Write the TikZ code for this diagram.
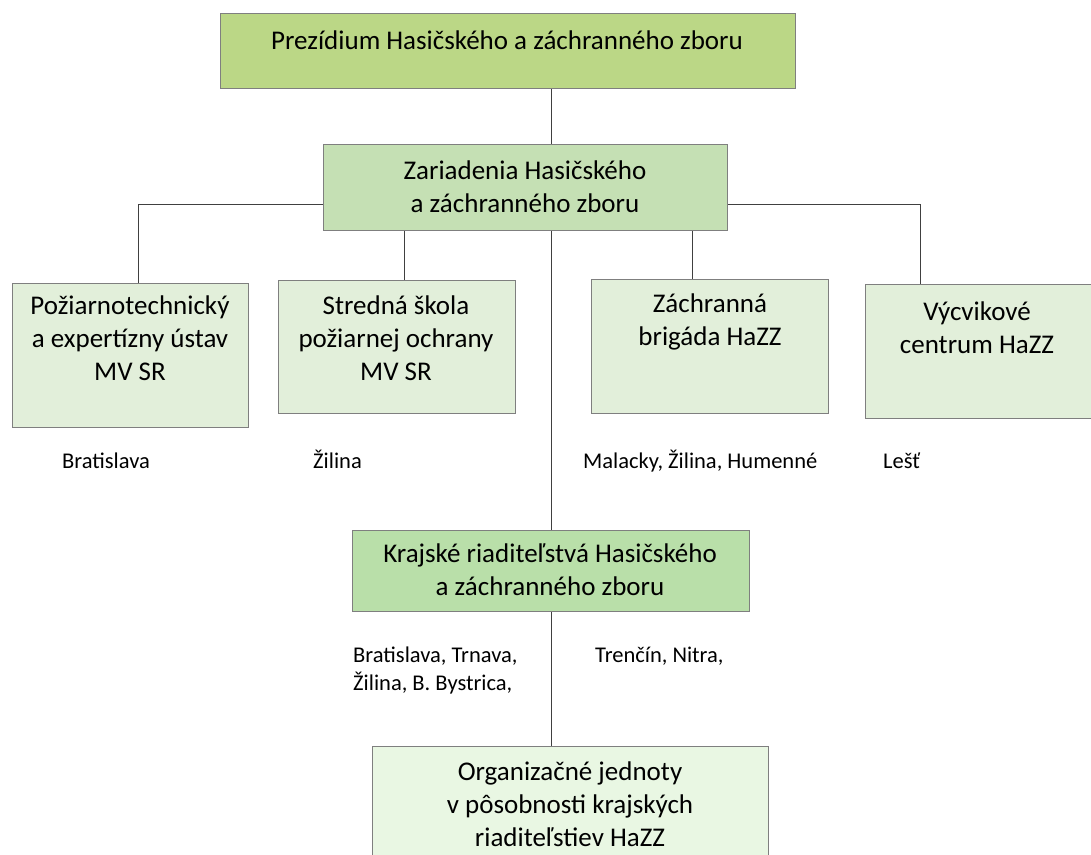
\documentclass[tikz,border=0pt]{standalone}
\usepackage{fontspec}
\setmainfont{Carlito}
\definecolor{cTop}{HTML}{BBD786}
\definecolor{cMid}{HTML}{C5E0B4}
\definecolor{cSmall}{HTML}{E2EFDA}
\definecolor{cKraj}{HTML}{B9DFA9}
\definecolor{cOrg}{HTML}{E9F7E3}
\definecolor{cBorder}{HTML}{7F7F7F}
\definecolor{cLine}{HTML}{404040}
\begin{document}
\begin{tikzpicture}[x=1pt,y=-1pt,
  box/.style={draw=cBorder,line width=1pt,inner sep=0pt,anchor=north west},
  boxtext/.style={align=center,font=\fontsize{27}{33}\selectfont,inner sep=0pt,anchor=base},
  place/.style={anchor=base west,align=left,font=\fontsize{22.5}{28}\selectfont,inner sep=0pt},
  conn/.style={draw=cLine,line width=0.9pt}]
\useasboundingbox (0,0) rectangle (1091,854);
% boxes
\node[box,fill=cTop,minimum width=575pt,minimum height=75pt] (top) at (220,13) {};
\node[box,fill=cMid,minimum width=404pt,minimum height=86pt] (mid) at (323,144) {};
\node[box,fill=cSmall,minimum width=236pt,minimum height=144pt] (b1) at (12,283) {};
\node[box,fill=cSmall,minimum width=237pt,minimum height=133pt] (b2) at (278,280) {};
\node[box,fill=cSmall,minimum width=237pt,minimum height=134pt] (b3) at (591,279) {};
\node[box,fill=cSmall,minimum width=226pt,minimum height=134pt] (b4) at (865,284) {};
\node[box,fill=cKraj,minimum width=397pt,minimum height=81pt] (kraj) at (352,530) {};
\node[box,fill=cOrg,minimum width=396pt,minimum height=120pt] (org) at (372,746) {};
% texts (anchored at baseline of last line)
\node[boxtext] (topt) at (507,49) {Prezídium Hasičského a záchranného zboru};
\node[boxtext] (midt) at (525,212) {Zariadenia Hasičského\\a záchranného zboru};
\node[boxtext] (b1t) at (130,380) {Požiarnotechnický\\a expertízny ústav\\MV SR};
\node[boxtext] (b2t) at (396,380) {Stredná škola\\požiarnej ochrany\\MV SR};
\node[boxtext] (b3t) at (710,345) {Záchranná\\brigáda HaZZ};
\node[boxtext] (b4t) at (977,353) {Výcvikové\\centrum HaZZ};
\node[boxtext] (krajt) at (550,595) {Krajské riaditeľstvá Hasičského\\a záchranného zboru};
\node[boxtext] (orgt) at (570,846) {Organizačné jednoty\\v pôsobnosti krajských\\riaditeľstiev HaZZ};
% place labels
\node[place] (l1) at (62,468) {Bratislava};
\node[place] (l2) at (313,468) {Žilina};
\node[place] (l3) at (583,468) {Malacky, Žilina, Humenné};
\node[place] (l4) at (883,468) {Lešť};
\node[place] (l5) at (353,690) {Bratislava, Trnava,\\Žilina, B. Bystrica,};
\node[place] (l6) at (595,662) {Trenčín, Nitra,};
% connectors
\draw[conn] (top.south -| 551,0) -- (mid.north -| 551,0);
\draw[conn] (mid.west |- 0,204) -| (b1.north -| 138,0);
\draw[conn] (mid.east |- 0,204) -| (b4.north -| 920,0);
\draw[conn] (mid.south -| 404,0) -- (b2.north -| 404,0);
\draw[conn] (mid.south -| 692,0) -- (b3.north -| 692,0);
\draw[conn] (mid.south -| 551,0) -- (kraj.north -| 551,0);
\draw[conn] (kraj.south -| 551,0) -- (org.north -| 551,0);
\end{tikzpicture}
\end{document}
